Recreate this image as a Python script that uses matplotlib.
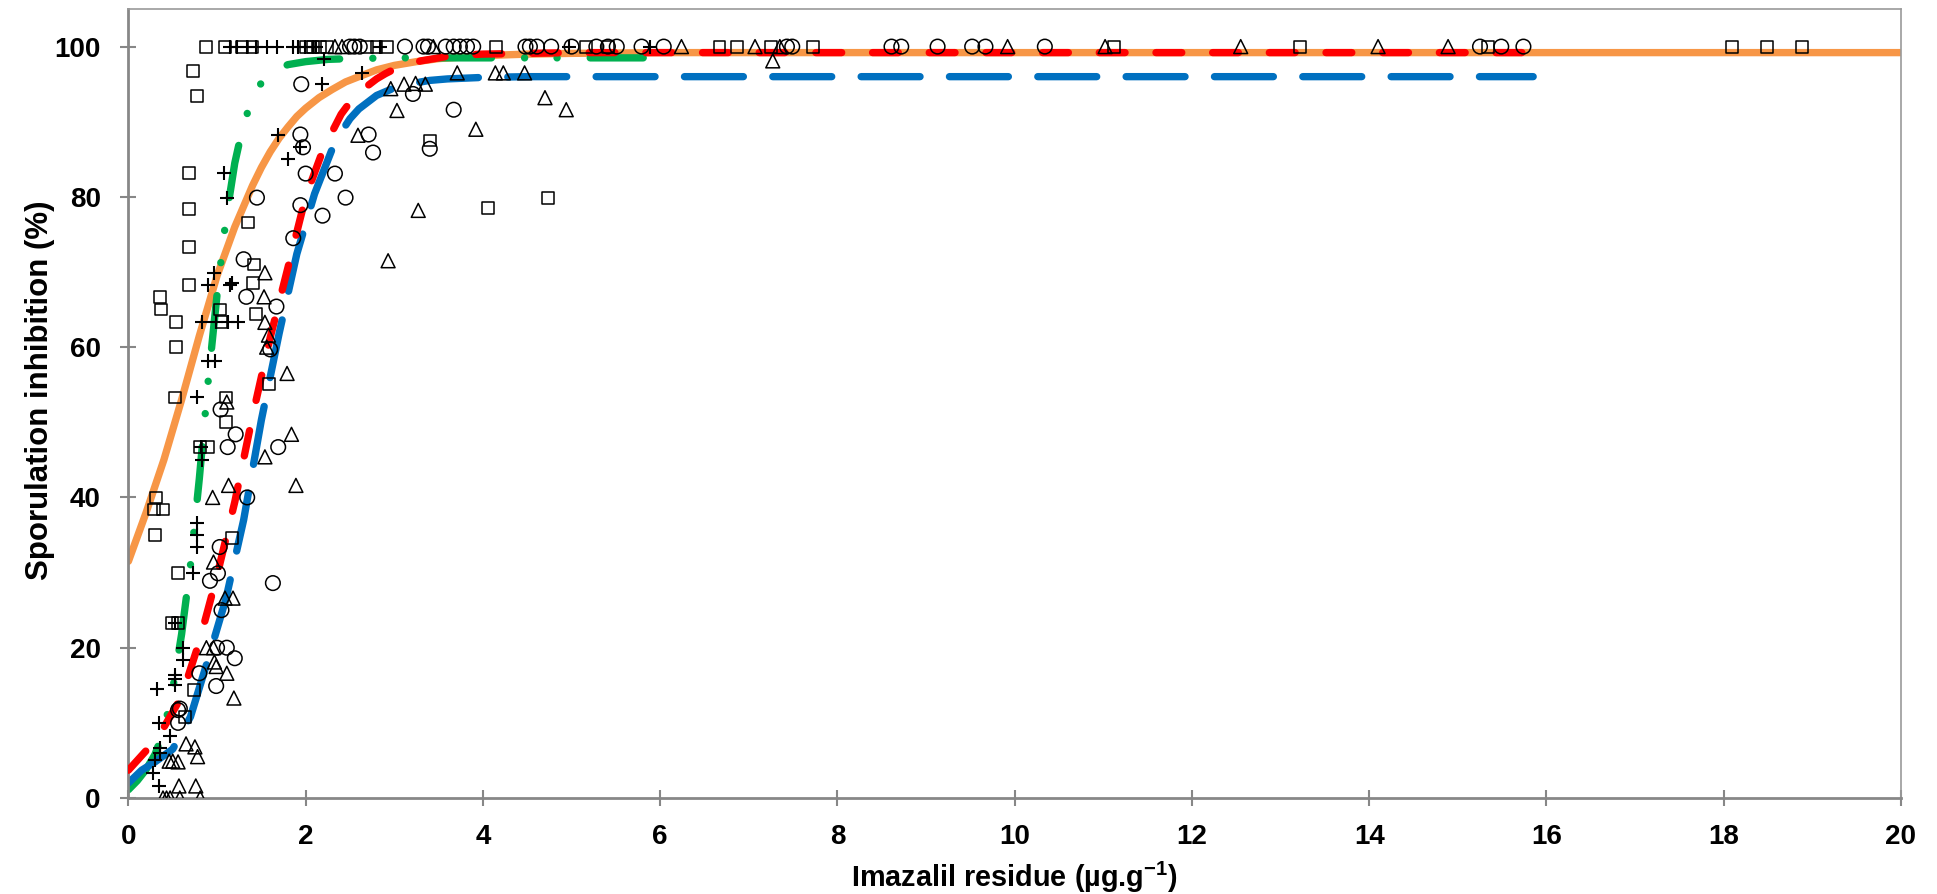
import matplotlib
matplotlib.use("Agg")
import matplotlib.pyplot as plt

plt.rcParams['font.family'] = ['Liberation Sans', 'DejaVu Sans']
plt.rcParams['mathtext.fontset'] = 'custom'
plt.rcParams['mathtext.rm'] = 'Liberation Sans:bold'
plt.rcParams['mathtext.bf'] = 'Liberation Sans:bold'
plt.rcParams['mathtext.default'] = 'bf'

sq_x = [0.875, 1.09, 1.28, 1.40, 2.00, 2.08, 2.16, 2.24, 2.69, 2.80, 2.92, 4.15, 5.16, 5.41,
        6.67, 6.87, 7.25, 7.72, 11.12, 13.22, 15.34, 18.09, 18.49, 18.88,
        0.73, 0.77, 0.68, 0.68, 1.35, 0.68, 1.42, 0.68, 1.41, 0.36, 0.37, 1.03, 1.44, 0.54,
        1.05, 0.54, 1.59, 0.53, 1.10, 1.10, 0.81, 0.90, 0.31, 0.29, 0.39, 0.30, 1.17, 0.56,
        0.49, 0.56, 0.74, 0.64, 3.40, 4.06, 4.73]
sq_y = [100] * 24 + [
        96.7, 93.4, 83.2, 78.4, 76.6, 73.3, 71.0, 68.3, 68.5, 66.7, 65.0, 65.0, 64.4, 63.3,
        63.3, 60.0, 55.1, 53.3, 53.3, 50.0, 46.7, 46.7, 40.0, 38.4, 38.4, 35.0, 34.6, 29.9,
        23.3, 23.3, 14.4, 10.8, 87.5, 78.5, 79.9]

pl_x = [1.15, 1.22, 1.34, 1.44, 1.56, 1.68, 1.86, 1.91, 1.99, 2.08, 2.12, 2.84, 4.97, 5.88,
        2.21, 2.63, 2.18, 1.69, 1.94, 1.80, 1.08, 1.11, 0.96, 0.90, 1.17, 1.15, 0.83, 0.99,
        1.12, 1.24, 0.90, 0.98, 0.77, 0.82, 0.83, 0.77, 0.77, 0.77, 0.73, 0.52, 0.62, 0.62,
        0.53, 0.53, 0.53, 0.32, 0.35, 0.47, 0.36, 0.36, 0.30, 0.28, 0.35]
pl_y = [100] * 14 + [
        98.4, 96.5, 95.0, 88.3, 86.6, 85.0, 83.2, 79.9, 69.9, 68.3, 68.5, 68.3, 63.3, 63.3,
        63.3, 63.3, 58.2, 58.2, 53.3, 46.7, 45.0, 36.6, 35.0, 33.4, 29.9, 23.3, 20.0, 18.3,
        16.4, 15.8, 15.0, 14.5, 10.0, 8.2, 6.6, 6.0, 5.1, 3.3, 1.6]

ci_x = [2.50, 2.55, 2.61, 3.12, 3.33, 3.38, 3.58, 3.67, 3.74, 3.82, 3.89, 4.48, 4.53, 4.61,
        4.77, 5.00, 5.28, 5.41, 5.51, 5.79, 6.04, 7.43, 7.49, 8.61, 8.72, 9.13, 9.52, 9.67,
        10.34, 15.25, 15.49, 15.74,
        1.95, 3.21, 3.67, 1.94, 1.97, 2.71, 2.76, 3.40, 2.00, 2.33, 1.45, 1.94, 2.45, 2.19,
        1.86, 1.30, 1.33, 1.67, 1.60, 1.04, 1.21, 1.12, 1.69, 1.34, 1.03, 1.01, 0.92, 1.63,
        1.05, 1.00, 1.11, 1.20, 0.80, 0.99, 0.56, 0.58, 0.56]
ci_y = [100] * 32 + [
        95.0, 93.7, 91.6, 88.3, 86.6, 88.3, 85.9, 86.4, 83.1, 83.1, 79.9, 78.9, 79.9, 77.5,
        74.5, 71.7, 66.7, 65.4, 59.7, 51.7, 48.4, 46.7, 46.7, 40.0, 33.4, 29.9, 28.9, 28.6,
        25.0, 20.0, 20.0, 18.6, 16.6, 14.9, 11.7, 11.9, 10.0]

tr_x = [2.33, 2.41, 3.44, 6.24, 7.07, 7.35, 9.92, 11.02, 12.55, 14.10, 14.89,
        3.71, 4.14, 4.23, 4.47, 7.27, 2.96, 3.11, 3.24, 3.35, 3.03, 3.92, 4.70, 4.94, 2.59,
        3.27, 2.93, 1.54, 1.53, 1.54, 1.58, 1.56, 1.79, 1.11, 1.84, 1.54, 1.89, 1.13, 0.95,
        0.96, 1.09, 1.18, 0.88, 0.96, 0.97, 0.99, 1.11, 1.19, 0.65, 0.75, 0.78, 0.46, 0.50,
        0.56, 0.57, 0.76, 0.39, 0.43, 0.47, 0.58, 0.81]
tr_y = [100] * 11 + [
        96.5, 96.5, 96.5, 96.5, 98.1, 94.4, 95.0, 95.1, 95.0, 91.5, 89.0, 93.2, 91.6, 88.2,
        78.2, 71.5, 69.9, 66.7, 63.3, 61.6, 60.0, 56.5, 52.7, 48.4, 45.4, 41.6, 41.6, 40.0,
        31.4, 26.6, 26.6, 20.0, 20.0, 18.1, 17.5, 16.6, 13.3, 7.2, 6.8, 5.5, 4.9, 4.9,
        4.8, 1.6, 1.6, 0, 0, 0, 0, 0]

# ---- fitted curves ----
or_x = [0, 0.2, 0.4, 0.6, 0.8, 1.0, 1.2, 1.4, 1.5, 1.6, 1.7, 1.8, 1.9, 2.0, 2.15, 2.3, 2.45,
        2.6, 2.8, 3.0, 3.25, 3.5, 3.75, 4, 4.5, 5, 6, 8, 20]
or_y = [31.5, 38, 45, 53, 61.5, 69.5, 76, 81.5, 83.9, 86, 87.8, 89.3, 90.7, 91.8, 93.2, 94.3,
        95.3, 96.0, 96.9, 97.5, 98.0, 98.4, 98.6, 98.8, 99.0, 99.1, 99.2, 99.2, 99.2]

gr_x = [0, 0.1, 0.2, 0.3, 0.4, 0.5, 0.6, 0.7, 0.8, 0.9, 1.0, 1.1, 1.2, 1.3, 1.4, 1.5, 1.6,
        1.7, 1.8, 2.0, 2.25, 2.5, 3.0, 4.0, 5.92]
gr_y = [1.1, 2.3, 3.8, 5.8, 9.0, 14.5, 21.8, 31.0, 42.5, 55.5, 67.0, 77.0, 84.5, 89.8, 93.0,
        95.2, 96.4, 97.1, 97.6, 98.0, 98.3, 98.4, 98.5, 98.5, 98.5]

rd_x = [0, 0.2, 0.4, 0.6, 0.8, 1.0, 1.2, 1.4, 1.6, 1.8, 2.0, 2.2, 2.4, 2.5, 2.6, 2.7, 2.8,
        2.9, 3.0, 3.15, 3.3, 3.45, 3.6, 3.8, 4.0, 4.5, 5.0, 16.0]
rd_y = [3.7, 6.3, 9.4, 13.5, 20.8, 29.6, 39.4, 50.8, 61.3, 70.6, 80.0, 86.4, 91.0, 92.6,
        93.8, 94.8, 95.7, 96.4, 97.0, 97.6, 98.1, 98.4, 98.7, 98.9, 99.0, 99.1, 99.2, 99.2]

bl_x = [0, 0.15, 0.3, 0.5, 0.7, 0.9, 1.1, 1.3, 1.5, 1.7, 1.9, 2.1, 2.3, 2.4, 2.5, 2.6, 2.8,
        3.0, 3.2, 3.4, 3.6, 3.8, 4.0, 4.5, 5.0, 15.85]
bl_y = [2.0, 3.7, 4.8, 6.5, 10.8, 18.5, 26.5, 37.0, 50.3, 61.8, 72.4, 80.4, 86.4, 88.6, 90.4,
        91.7, 93.5, 94.5, 95.1, 95.5, 95.7, 95.8, 95.9, 96.0, 96.0, 96.0]

fig = plt.figure(figsize=(19.37, 8.94), dpi=100)
ax = fig.add_axes([0.0663, 0.1074, 0.9151, 0.8825])

lw = 5.3
ax.plot(or_x, or_y, color='#F79646', lw=lw, solid_capstyle='round', zorder=2)
ax.plot(gr_x, gr_y, color='#00B050', lw=lw, dash_capstyle='round',
        dashes=(7.2, 4.5, 0.01, 4.4, 0.01, 4.5), zorder=2)
ax.plot(rd_x, rd_y, color='#FF0000', lw=lw, dash_capstyle='round', dashes=(3.5, 4.2), zorder=3)
ax.plot(bl_x, bl_y, color='#0070C0', lw=lw, dash_capstyle='round', dashes=(8, 4), zorder=2)

mk = dict(facecolors='none', edgecolors='black', linewidths=1.1, zorder=5)
ax.scatter(sq_x, sq_y, marker='s', s=8.5 ** 2, **mk)
ax.scatter(pl_x, pl_y, marker='+', s=10 ** 2, color='black', linewidths=1.5, zorder=5)
ax.scatter(ci_x, ci_y, marker='o', s=10.5 ** 2, **mk)
ax.scatter(tr_x, tr_y, marker='^', s=10 ** 2, **mk)

ax.set_xlim(0, 20)
ax.set_ylim(0, 105)
ax.set_xticks(range(0, 21, 2))
ax.set_yticks(range(0, 101, 20))

for s in ['left', 'bottom']:
    ax.spines[s].set_color('#878787')
    ax.spines[s].set_linewidth(2)
for s in ['top', 'right']:
    ax.spines[s].set_color('#9a9a9a')
    ax.spines[s].set_linewidth(1.2)
ax.tick_params(direction='inout', length=12, width=1.5, color='#878787',
               labelsize=20)
ax.tick_params(axis='y', pad=14)
ax.tick_params(axis='x', pad=13)
for lab in ax.get_xticklabels() + ax.get_yticklabels():
    lab.set_fontweight('bold')

ax.set_xlabel('Imazalil residue (µg.g$^{-1}$)', fontsize=20.8, fontweight='bold', labelpad=7)
ax.set_ylabel('Sporulation inhibition (%)', fontsize=22.5, fontweight='bold')
ax.yaxis.set_label_coords(-0.0414, 0.517)

fig.savefig('out.png', dpi=100)
